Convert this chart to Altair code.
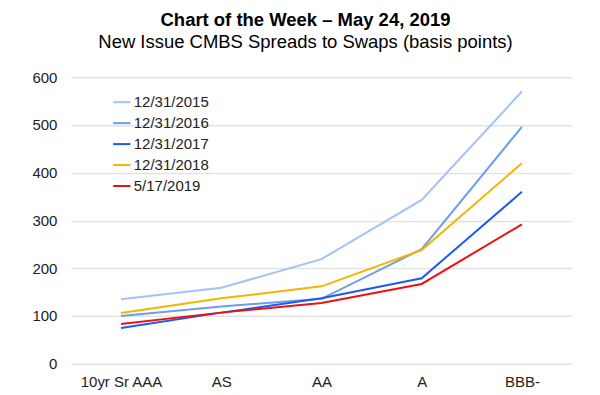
import altair as alt
import pandas as pd

categories = ["10yr Sr AAA", "AS", "AA", "A", "BBB-"]
series_names = ["12/31/2015", "12/31/2016", "12/31/2017", "12/31/2018", "5/17/2019"]
s2015 = [135, 159, 219, 343, 570]
s2016 = [100, 120, 136, 240, 496]
s2017 = [75, 107, 137, 179, 360]
s2018 = [106, 137, 162, 238, 420]
s2019 = [83, 107, 127, 167, 292]
colors = ["#a4c2f4", "#6d9eeb", "#1a5cf2", "#f4b400", "#ee1111"]
y_ticks = [0, 100, 200, 300, 400, 500, 600]

rows = []
for name, vals in zip(series_names, [s2015, s2016, s2017, s2018, s2019]):
    for c, v in zip(categories, vals):
        rows.append({"Category": c, "Series": name, "Value": v})
df = pd.DataFrame(rows)

chart = alt.Chart(df).mark_line(strokeWidth=2).encode(
    x=alt.X("Category:N", sort=categories, title=None,
            scale=alt.Scale(paddingInner=0, paddingOuter=0.5),
            axis=alt.Axis(labelAngle=0, domain=False, ticks=False, grid=False,
                          labelFontSize=15, labelColor="#222222", labelFont="Arial",
                          labelPadding=11)),
    y=alt.Y("Value:Q", title=None,
            scale=alt.Scale(domain=[0, 600], nice=False),
            axis=alt.Axis(values=y_ticks, domain=False, ticks=False,
                          gridColor="#e3e3e3", gridWidth=1.5,
                          labelFontSize=15, labelColor="#222222", labelFont="Arial",
                          labelPadding=14)),
    color=alt.Color("Series:N", sort=series_names,
                    scale=alt.Scale(domain=series_names, range=colors),
                    legend=alt.Legend(title=None, orient="none", legendX=41, legendY=15,
                                      symbolType="stroke", symbolStrokeWidth=2,
                                      symbolSize=300, labelFontSize=15,
                                      labelFont="Arial", labelColor="#222222",
                                      labelOffset=2, rowPadding=3)),
).properties(
    width=502,
    height=287,
    title=alt.TitleParams(
        text="Chart of the Week – May 24, 2019",
        subtitle="New Issue CMBS Spreads to Swaps (basis points)",
        anchor="middle", dx=-16, fontSize=18.5, fontWeight="bold", font="Arial",
        color="#000000", subtitleFont="Arial", subtitleFontSize=18.5,
        subtitleColor="#000000", offset=19, subtitlePadding=3,
    ),
    autosize=alt.AutoSizeParams(type="none"),
    padding={"left": 63, "top": 69, "right": 20, "bottom": 30},
).configure_view(stroke=None)

chart.save("out.html", embed_options={"renderer": "svg", "actions": False})
